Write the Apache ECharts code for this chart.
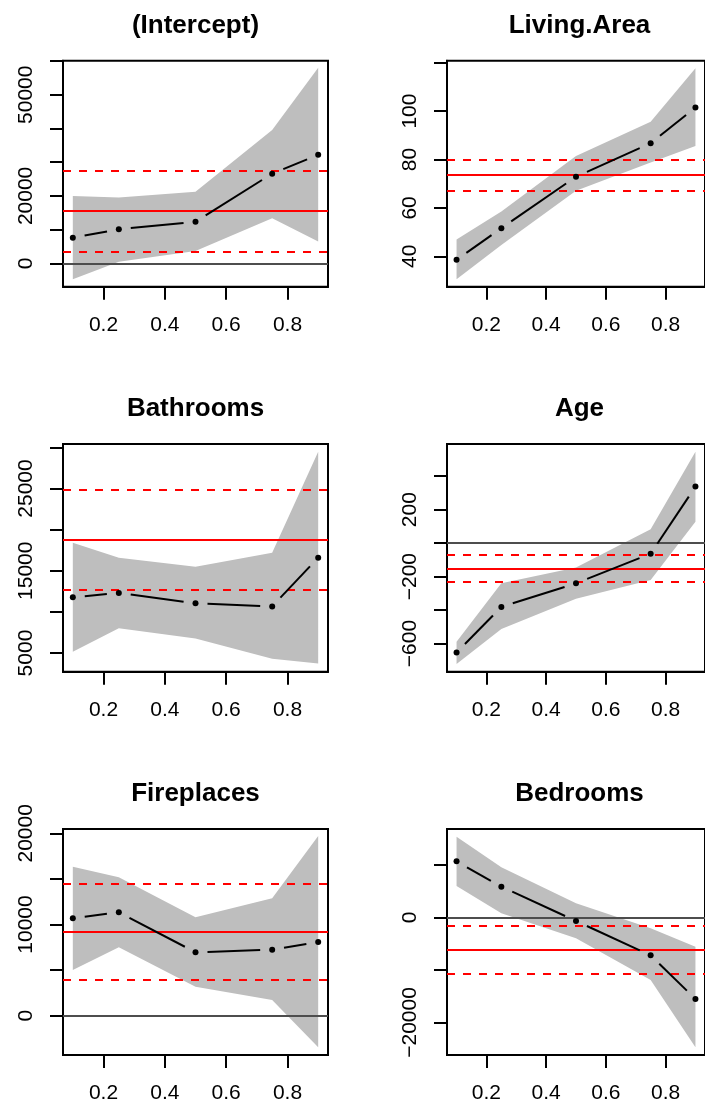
<!DOCTYPE html>
<html>
<head>
<meta charset="utf-8">
<script src="https://cdn.jsdelivr.net/npm/echarts@6/dist/echarts.min.js"></script>
<style>
html,body{margin:0;padding:0;background:#fff;}
#chart{width:705px;height:1109px;}
</style>
</head>
<body>
<div id="chart"></div>
<script>
// quantiles
const taus = [0.1, 0.25, 0.5, 0.75, 0.9];
const xTicks = [0.2, 0.4, 0.6, 0.8];

// (Intercept)
const interceptEst = [7600, 10100, 12350, 26600, 32200];
const interceptLo  = [-4700, 500, 3650, 13350, 6500];
const interceptHi  = [19950, 19550, 21250, 39550, 58000];
const interceptOls = [15500, 3450, 27600];
const interceptTicks = [0, 10000, 20000, 30000, 40000, 50000, 60000];
const interceptLabels = [0, 20000, 50000];

// Living.Area
const livingEst = [38.6, 51.6, 72.9, 86.7, 101.5];
const livingLo  = [30.5, 44.7, 67.1, 78.8, 85.6];
const livingHi  = [47.0, 58.5, 81.4, 95.6, 117.7];
const livingOls = [73.7, 67.0, 80.1];
const livingTicks = [40, 60, 80, 100, 120];
const livingLabels = [40, 60, 80, 100];

// Bathrooms
const bathEst = [11770, 12300, 11040, 10670, 16590];
const bathLo  = [5160, 8000, 6780, 4310, 3740];
const bathHi  = [18410, 16590, 15490, 17200, 29470];
const bathOls = [18780, 12740, 24810];
const bathTicks = [5000, 10000, 15000, 20000, 25000, 30000];
const bathLabels = [5000, 15000, 25000];

// Age
const ageEst = [-654, -381, -240, -63, 338];
const ageLo  = [-722, -513, -332, -220, 128];
const ageHi  = [-589, -240, -146, 83, 547];
const ageOls = [-152, -230, -71];
const ageTicks = [-600, -400, -200, 0, 200, 400];
const ageLabels = [-600, -200, 200];

// Fireplaces
const fireEst = [10680, 11340, 6950, 7240, 8080];
const fireLo  = [5010, 7500, 3180, 1720, -3470];
const fireHi  = [16340, 15170, 10790, 12870, 19710];
const fireOls = [9210, 3990, 14440];
const fireTicks = [0, 5000, 10000, 15000, 20000];
const fireLabels = [0, 10000, 20000];

// Bedrooms
const bedEst = [10650, 5830, -700, -7230, -15540];
const bedLo  = [5960, 760, -4000, -11920, -24730];
const bedHi  = [15350, 9510, 2660, -2090, -5580];
const bedOls = [-6090, -10650, -1585];
const bedTicks = [-20000, -10000, 0, 10000];
const bedLabels = [-20000, 0];

const panels = [
  {title:'(Intercept)', est:interceptEst, lo:interceptLo, hi:interceptHi, ols:interceptOls, ticks:interceptTicks, labels:interceptLabels, ymin:-6925, ymax:60094},
  {title:'Living.Area', est:livingEst, lo:livingLo, hi:livingHi, ols:livingOls, ticks:livingTicks, labels:livingLabels, ymin:27.47, ymax:120.8},
  {title:'Bathrooms', est:bathEst, lo:bathLo, hi:bathHi, ols:bathOls, ticks:bathTicks, labels:bathLabels, ymin:2731, ymax:30405},
  {title:'Age', est:ageEst, lo:ageLo, hi:ageHi, ols:ageOls, ticks:ageTicks, labels:ageLabels, ymin:-768, ymax:592.6},
  {title:'Fireplaces', est:fireEst, lo:fireLo, hi:fireHi, ols:fireOls, ticks:fireTicks, labels:fireLabels, ymin:-4314, ymax:20475},
  {title:'Bedrooms', est:bedEst, lo:bedLo, hi:bedHi, ols:bedOls, ticks:bedTicks, labels:bedLabels, ymin:-26189, ymax:16804}
];

const colLeft = [63, 447];
const boxW = 265;
const rowTop = [60.7, 444, 829];
const rowH = [226, 227.7, 226];
const FONT = 'Liberation Sans, Arial, Helvetica, sans-serif';

const grid = [], xAxis = [], yAxis = [], series = [], title = [];
panels.forEach((p, k) => {
  const r = Math.floor(k / 2), c = k % 2;
  grid.push({left: colLeft[c], top: rowTop[r], width: boxW, height: rowH[r], show: true, borderColor: '#000', borderWidth: 2, containLabel: false});
  title.push({text: p.title, left: colLeft[c] + boxW / 2, top: rowTop[r] - 48, textAlign: 'center', padding: 0,
    textStyle: {fontFamily: FONT, fontWeight: 'bold', fontSize: 26, color: '#000'}});
  xAxis.push({gridIndex: k, type: 'value', min: 0.068, max: 0.932,
    axisLine: {show: true, onZero: false, lineStyle: {color: '#000', width: 2}},
    axisTick: {show: true, length: 13, customValues: xTicks, lineStyle: {color: '#000', width: 2}},
    axisLabel: {customValues: xTicks, margin: 28, fontSize: 21, color: '#000', fontFamily: FONT, formatter: v => String(v)},
    splitLine: {show: false}});
  yAxis.push({gridIndex: k, type: 'value', min: p.ymin, max: p.ymax,
    axisLine: {show: true, onZero: false, lineStyle: {color: '#000', width: 2}},
    axisTick: {show: true, length: 13, customValues: p.ticks, lineStyle: {color: '#000', width: 2}},
    axisLabel: {customValues: p.labels, rotate: 90, margin: 26, fontSize: 21, color: '#000', fontFamily: FONT,
      formatter: v => String(v).replace('-', '\u2212')},
    splitLine: {show: false}});

  // confidence band
  series.push({type: 'custom', xAxisIndex: k, yAxisIndex: k, silent: true, z: 1, clip: false,
    data: [[taus[0], p.lo[0]]],
    renderItem: (params, api) => {
      const up = taus.map((t, i) => api.coord([t, p.hi[i]]));
      const dn = taus.map((t, i) => api.coord([t, p.lo[i]])).reverse();
      return {type: 'polygon', shape: {points: up.concat(dn)}, style: {fill: '#BEBEBE', stroke: null}};
    }});

  // type="b" line segments with gaps near points
  series.push({type: 'custom', xAxisIndex: k, yAxisIndex: k, silent: true, z: 3, clip: false,
    data: taus.slice(0, -1).map((t, i) => [t, p.est[i]]),
    renderItem: (params, api) => {
      const i = params.dataIndex;
      const a = api.coord([taus[i], p.est[i]]);
      const b = api.coord([taus[i + 1], p.est[i + 1]]);
      const dx = b[0] - a[0], dy = b[1] - a[1];
      const len = Math.sqrt(dx * dx + dy * dy);
      const g = 12;
      if (len <= 2 * g) return null;
      const ux = dx / len, uy = dy / len;
      return {type: 'line', shape: {x1: a[0] + ux * g, y1: a[1] + uy * g, x2: b[0] - ux * g, y2: b[1] - uy * g},
        style: {stroke: '#000', lineWidth: 2}};
    }});

  const mdata = [];
  if (p.ymin < 0 && p.ymax > 0) mdata.push({yAxis: 0, lineStyle: {color: '#4D4D4D', type: 'solid', width: 2}});
  mdata.push({yAxis: p.ols[0], lineStyle: {color: '#FF0000', type: 'solid', width: 2}});
  mdata.push({yAxis: p.ols[1], lineStyle: {color: '#FF0000', type: [8, 8], width: 2}});
  mdata.push({yAxis: p.ols[2], lineStyle: {color: '#FF0000', type: [8, 8], width: 2}});

  series.push({type: 'scatter', xAxisIndex: k, yAxisIndex: k, silent: true, z: 4,
    data: taus.map((t, i) => [t, p.est[i]]),
    symbol: 'circle', symbolSize: 6, itemStyle: {color: '#000', opacity: 1},
    markLine: {silent: true, symbol: ['none', 'none'], label: {show: false}, animation: false, z: 2, data: mdata}});
});

const chart = echarts.init(document.getElementById('chart'), null, {renderer: 'canvas'});
chart.setOption({animation: false, backgroundColor: '#fff', title, grid, xAxis, yAxis, series});
</script>
</body>
</html>
